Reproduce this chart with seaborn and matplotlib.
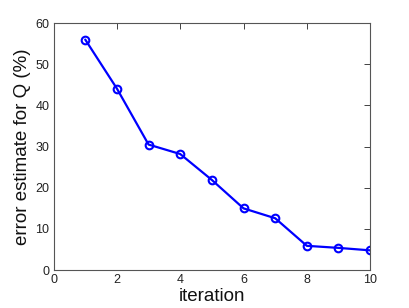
import matplotlib
matplotlib.use("Agg")
import matplotlib.pyplot as plt
import seaborn as sns
import pandas as pd

iterations = [1, 2, 3, 4, 5, 6, 7, 8, 9, 10]
error_pct = [56.0, 44.1, 30.5, 28.2, 21.9, 15.0, 12.6, 5.9, 5.4, 4.8]

sns.set_theme(style="white")
plt.rcParams['font.family'] = ['Liberation Sans', 'DejaVu Sans']

df = pd.DataFrame({"iteration": iterations, "error": error_pct})

fig = plt.figure(figsize=(4.09, 3.08), dpi=100)
ax = fig.add_axes([0.131, 0.123, 0.774, 0.802])
sns.lineplot(data=df, x="iteration", y="error", ax=ax, color="#0000ff",
             linewidth=1.6, marker="o", markersize=5.5, markerfacecolor="none",
             markeredgecolor="#0000ff", markeredgewidth=1.5)

ax.set_xlim(0, 10)
ax.set_ylim(0, 60)
ax.set_xticks([0, 2, 4, 6, 8, 10])
ax.set_yticks([0, 10, 20, 30, 40, 50, 60])
ax.tick_params(direction="in", length=4, width=0.6, top=True, right=True,
               labelsize=9, colors="#222222", pad=3)
for s in ax.spines.values():
    s.set_color("#555555")
    s.set_linewidth(0.8)
    s.set_visible(True)
ax.set_xlabel("iteration", fontsize=13.5, labelpad=1, color="#111111")
ax.set_ylabel("error estimate for Q (%)", fontsize=13.5, labelpad=3, color="#111111")
ax.grid(False)
fig.savefig("out.png", dpi=100)
